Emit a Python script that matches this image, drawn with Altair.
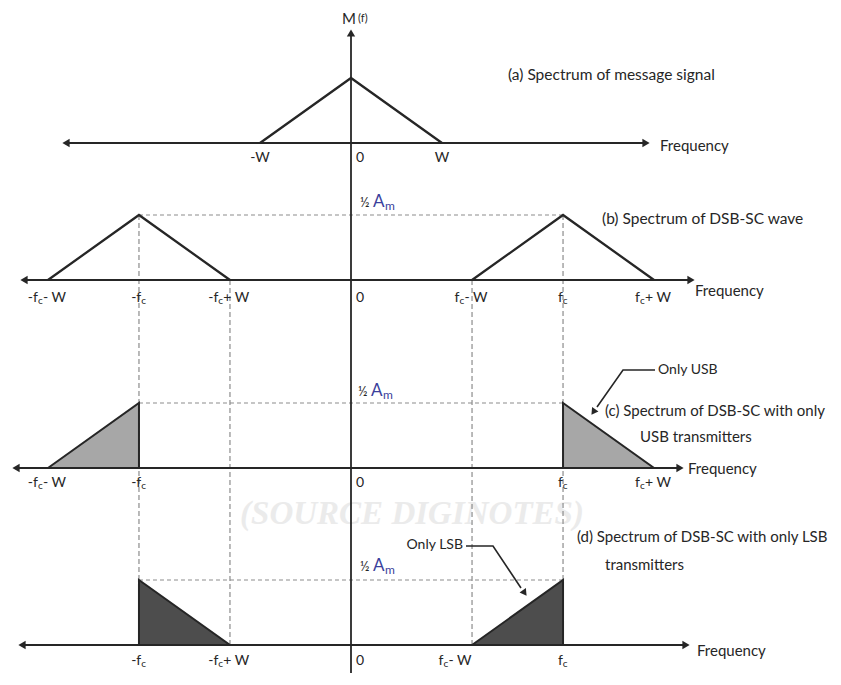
import altair as alt
import pandas as pd

# ---------------- data (frequency in units of W, amplitude normalised) ----------------
W = 1.0
FC = 2.33

msg_f = [-W, 0.0, W]
msg_amp = [0.0, 1.0, 0.0]

dsb_f = [[-FC - W, -FC, -FC + W], [FC - W, FC, FC + W]]
dsb_amp = [[0.0, 1.0, 0.0], [0.0, 1.0, 0.0]]

usb_f = [[-FC - W, -FC], [FC, FC + W]]
usb_amp = [[0.0, 1.0], [1.0, 0.0]]

lsb_f = [[-FC, -FC + W], [FC - W, FC]]
lsb_amp = [[1.0, 0.0], [0.0, 1.0]]

titles1 = ["(a)  Spectrum of message signal", "(b)  Spectrum of DSB-SC wave",
           "(c)  Spectrum of DSB-SC with only", "(d)  Spectrum of DSB-SC with only LSB"]
titles2 = ["", "", "USB transmitters", "transmitters"]

# (frequency, prefix, subscript, suffix, label shift in px)
ticks = [
    [(-W, "-W", "", "", 0), (W, "W", "", "", 0)],
    [(-FC - W, "-f", "c", " - W", 0), (-FC, "-f", "c", "", 0), (-FC + W, "-f", "c", " + W", 0),
     (FC - W, "f", "c", " - W", 0), (FC, "f", "c", "", 0), (FC + W, "f", "c", " + W", 0)],
    [(-FC - W, "-f", "c", " - W", 0), (-FC, "-f", "c", "", 0),
     (FC, "f", "c", "", 0), (FC + W, "f", "c", " + W", 0)],
    [(-FC, "-f", "c", "", 0), (-FC + W, "-f", "c", " + W", 0),
     (FC - W, "f", "c", " - W", -16), (FC, "f", "c", "", 0)],
]

# ---------------- layout (pixels) ----------------
PW, PH = 825, 665
XPX0, XS = 351.0, 91.0
YPX0, YS = 645.0, 65.0
XMIN, XMAX = (8 - XPX0) / XS, (8 + PW - XPX0) / XS
YMAX, YMIN = (YPX0 - 8) / YS, (YPX0 - 8 - PH) / YS


def X(px):
    return (px - XPX0) / XS


def Y(py):
    return (YPX0 - py) / YS


BASE_PX = [143, 280, 468, 645]
BASE = [Y(p) for p in BASE_PX]
AXL_PX = [62, 20, 12, 18]
AXR_PX = [650, 695, 684, 690]
LAB_DY = [15, 18, 15, 16]
TITLE_PX = [(508, 75), (602, 219), (605, 411), (577, 537)]
TITLE2_PX = [None, None, (640, 437), (605, 565)]
TITLE_SIZE = [15.5, 15.5, 15, 15]
FREQ_PX = [(660, 146), (695, 291), (688, 469), (697, 651)]
HALF_PX = [None, (360, 203), (358, 392), (360, 567)]

INK = "#262626"
FONT = "Lato"

xs = alt.Scale(domain=[XMIN, XMAX], nice=False, zero=False)
ys = alt.Scale(domain=[YMIN, YMAX], nice=False, zero=False)


def enc_xy(xf="x", yf="y"):
    return dict(x=alt.X(f"{xf}:Q", scale=xs, axis=None), y=alt.Y(f"{yf}:Q", scale=ys, axis=None))


layers = []

# watermark
wm = pd.DataFrame({"x": [X(412)], "y": [Y(514)], "t": ["(SOURCE  DIGINOTES)"]})
layers.append(alt.Chart(wm).mark_text(font="Liberation Serif", fontStyle="italic", fontWeight="bold",
                                      fontSize=33, color="#ebebeb", align="center", baseline="middle")
              .encode(text="t:N", **enc_xy()))

# dashed verticals and horizontals
dv = pd.DataFrame({
    "x": [-FC, FC, -FC + W, FC - W],
    "y": [BASE[1] + 1, BASE[1] + 1, BASE[1], BASE[1]],
    "y2": [BASE[3] + 1, BASE[3] + 1, BASE[3], BASE[3]],
})
layers.append(alt.Chart(dv).mark_rule(color="#8c8c8c", strokeWidth=1.2, strokeDash=[5, 3])
              .encode(y2="y2:Q", **enc_xy()))
dh = pd.DataFrame({"x": [-FC] * 3, "x2": [FC] * 3, "y": [BASE[i] + 1 for i in (1, 2, 3)]})
layers.append(alt.Chart(dh).mark_rule(color="#8c8c8c", strokeWidth=1.2, strokeDash=[4, 3])
              .encode(x2="x2:Q", **enc_xy()))

# frequency axes
ax = pd.DataFrame({"x": [X(p + 5) for p in AXL_PX], "x2": [X(p - 5) for p in AXR_PX], "y": BASE})
layers.append(alt.Chart(ax).mark_rule(color=INK, strokeWidth=1.8).encode(x2="x2:Q", **enc_xy()))
al = pd.DataFrame({"x": [X(p + 4) for p in AXL_PX], "y": BASE})
ar = pd.DataFrame({"x": [X(p - 4) for p in AXR_PX], "y": BASE})
layers.append(alt.Chart(al).mark_point(shape="triangle-left", filled=True, size=70, color=INK, opacity=1)
              .encode(**enc_xy()))
layers.append(alt.Chart(ar).mark_point(shape="triangle-right", filled=True, size=70, color=INK, opacity=1)
              .encode(**enc_xy()))

# vertical axis
va = pd.DataFrame({"x": [0.0], "y": [Y(34)], "y2": [YMIN]})
layers.append(alt.Chart(va).mark_rule(color=INK, strokeWidth=1.8).encode(y2="y2:Q", **enc_xy()))
vh = pd.DataFrame({"x": [0.0], "y": [Y(33)]})
layers.append(alt.Chart(vh).mark_point(shape="triangle-up", filled=True, size=70, color=INK, opacity=1)
              .encode(**enc_xy()))

# shaded SSB spectra
rows = []
for g, (fs, am) in enumerate(zip(usb_f, usb_amp)):
    for f, a in zip(fs, am):
        rows.append({"x": f, "y": BASE[2] + a, "b": BASE[2], "g": f"u{g}"})
usb_df = pd.DataFrame(rows)
rows = []
for g, (fs, am) in enumerate(zip(lsb_f, lsb_amp)):
    for f, a in zip(fs, am):
        rows.append({"x": f, "y": BASE[3] + a, "b": BASE[3], "g": f"l{g}"})
lsb_df = pd.DataFrame(rows)
layers.append(alt.Chart(usb_df).mark_area(color="#a7a7a7", opacity=1, stroke=INK, strokeWidth=2)
              .encode(y2="b:Q", detail="g:N", **enc_xy()))
layers.append(alt.Chart(lsb_df).mark_area(color="#4d4d4d", opacity=1, stroke=INK, strokeWidth=2)
              .encode(y2="b:Q", detail="g:N", **enc_xy()))

# line spectra (a) and (b)
rows = [{"x": f, "y": BASE[0] + a, "g": "m", "o": i} for i, (f, a) in enumerate(zip(msg_f, msg_amp))]
for g, (fs, am) in enumerate(zip(dsb_f, dsb_amp)):
    for i, (f, a) in enumerate(zip(fs, am)):
        rows.append({"x": f, "y": BASE[1] + a, "g": f"d{g}", "o": i})
tri = pd.DataFrame(rows)
layers.append(alt.Chart(tri).mark_line(color=INK, strokeWidth=2.3)
              .encode(detail="g:N", order="o:Q", **enc_xy()))

# annotation arrows
ann = pd.DataFrame({
    "x": [X(655), X(623), X(597), X(466), X(493), X(521)],
    "y": [Y(370), Y(370), Y(407), Y(546), Y(546), Y(588)],
    "g": ["u", "u", "u", "l", "l", "l"], "o": [0, 1, 2, 0, 1, 2]})
layers.append(alt.Chart(ann).mark_line(color=INK, strokeWidth=1.6)
              .encode(detail="g:N", order="o:Q", **enc_xy()))
layers.append(alt.Chart(pd.DataFrame({"x": [X(594)], "y": [Y(411)]}))
              .mark_point(shape="triangle", angle=215, filled=True, size=60, color=INK, opacity=1)
              .encode(**enc_xy()))
layers.append(alt.Chart(pd.DataFrame({"x": [X(524)], "y": [Y(592)]}))
              .mark_point(shape="triangle", angle=145, filled=True, size=60, color=INK, opacity=1)
              .encode(**enc_xy()))

# ---------------- texts ----------------
CW = {"-": 5.0, "f": 4.6, " ": 3.2, "W": 13.3, "+": 8.2, "0": 8.0}
SUBW = 5.0


def tw(s):
    return sum(CW.get(ch, 7.5) for ch in s)


left_t, right_t, sub_t, center_t = [], [], [], []
for p in range(4):
    ly = BASE_PX[p] + LAB_DY[p]
    for f, pre, sub, suf, sh in ticks[p]:
        cx = XPX0 + f * XS + sh
        if not sub:
            center_t.append({"x": X(cx), "y": Y(ly), "t": pre, "s": 14, "c": INK})
            continue
        total = tw(pre) + SUBW + tw(suf)
        a1 = cx - total / 2 + tw(pre)
        right_t.append({"x": X(a1), "y": Y(ly), "t": pre, "s": 14, "c": INK})
        sub_t.append({"x": X(a1), "y": Y(ly + 3), "t": sub, "s": 10, "c": INK})
        if suf:
            left_t.append({"x": X(a1 + SUBW), "y": Y(ly), "t": suf, "s": 14, "c": INK})
    left_t.append({"x": X(XPX0 + 5), "y": Y(ly), "t": "0", "s": 14, "c": INK})
    tx, ty = TITLE_PX[p]
    left_t.append({"x": X(tx), "y": Y(ty), "t": titles1[p], "s": TITLE_SIZE[p], "c": INK})
    if TITLE2_PX[p]:
        tx, ty = TITLE2_PX[p]
        left_t.append({"x": X(tx), "y": Y(ty), "t": titles2[p], "s": TITLE_SIZE[p], "c": INK})
    fx, fy = FREQ_PX[p]
    left_t.append({"x": X(fx), "y": Y(fy), "t": "Frequency", "s": 15, "c": INK})
    if HALF_PX[p]:
        hx, hy = HALF_PX[p]
        left_t.append({"x": X(hx), "y": Y(hy), "t": "½", "s": 13, "c": INK})
        left_t.append({"x": X(hx + 13), "y": Y(hy - 1), "t": "A", "s": 17, "c": "#3b3f9c"})
        left_t.append({"x": X(hx + 25), "y": Y(hy + 3), "t": "m", "s": 12, "c": "#3b3f9c"})

left_t.append({"x": X(658), "y": Y(370), "t": "Only USB", "s": 14, "c": INK})
right_t.append({"x": X(463), "y": Y(545), "t": "Only LSB", "s": 14, "c": INK})
center_t.append({"x": X(349), "y": Y(19), "t": "M", "s": 15, "c": INK})
left_t.append({"x": X(358), "y": Y(19), "t": "(f)", "s": 11, "c": INK})


def text_layer(rows, align):
    df = pd.DataFrame(rows)
    return alt.Chart(df).mark_text(font=FONT, align=align, baseline="middle").encode(
        text="t:N", size=alt.Size("s:Q", scale=None), color=alt.Color("c:N", scale=None), **enc_xy())


layers += [text_layer(left_t, "left"), text_layer(right_t, "right"),
           text_layer(sub_t, "left"), text_layer(center_t, "center")]

chart = alt.layer(*layers).properties(
    width=PW, height=PH, padding=0, autosize=alt.AutoSizeParams(type="none"),
    background="white"
).configure_view(stroke=None)

chart.save("out.html", embed_options={"renderer": "svg", "actions": False})
